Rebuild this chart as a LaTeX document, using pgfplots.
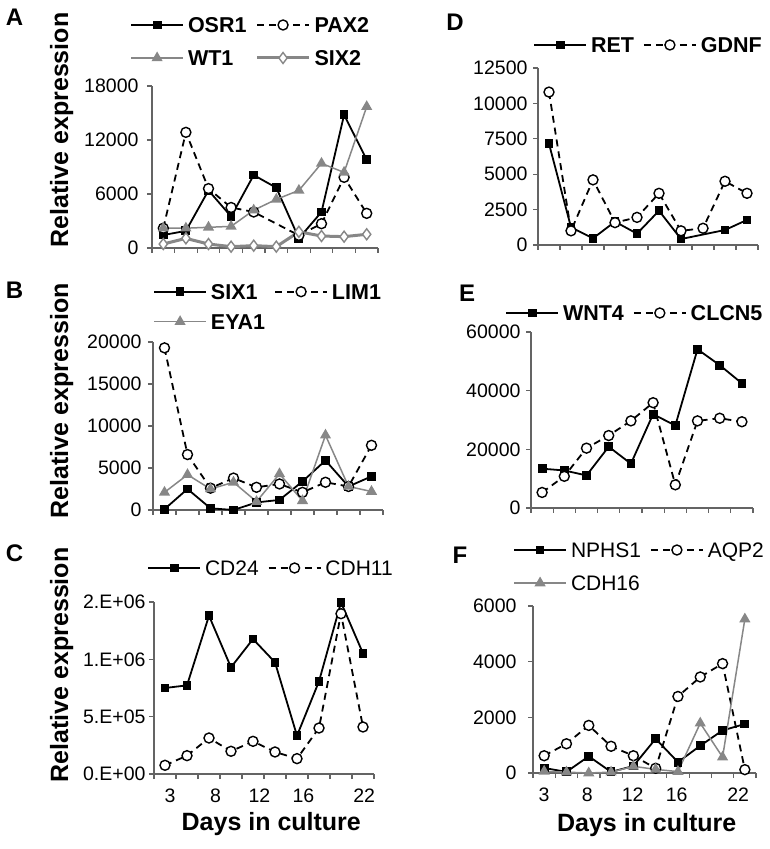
\documentclass[border=0pt]{standalone}
\usepackage{fontspec}
\setmainfont{Liberation Sans}
\usepackage{pgfplots}
\pgfplotsset{compat=1.18}
\definecolor{axgray}{RGB}{100,100,100}
\definecolor{sgray}{RGB}{135,135,135}
\newcommand\tfont{\fontsize{19.5pt}{21pt}\selectfont}
\newcommand\lfont{\fontsize{21.5pt}{23pt}\selectfont\bfseries}
\newcommand\lfontr{\fontsize{21pt}{23pt}\selectfont}
\newcommand\afont{\fontsize{25pt}{28pt}\selectfont\bfseries}
\newcommand\pfont{\fontsize{24pt}{26pt}\selectfont\bfseries}
\pgfplotsset{
 panel/.style={scale only axis, xmin=-0.5, xmax=9.5, ymin=0,
   axis x line*=bottom, axis y line*=left,
   axis line style={draw=axgray, line width=1.2pt},
   every tick/.style={draw=axgray, line width=1.2pt},
   tick align=outside, major tick length=5pt,
   xtick={-0.5,0.5,1.5,2.5,3.5,4.5,5.5,6.5,7.5,8.5,9.5}, xticklabels={},
   ticklabel style={font=\tfont},
   scaled y ticks=false,
   clip=false,
   legend cell align=left,
   legend columns=2,
   legend style={draw=none, fill=none, inner sep=0pt, anchor=west,
     nodes={inner sep=0pt, text height=15pt, text depth=0pt},
     /tikz/every odd column/.append style={column sep=4pt},
     /tikz/every even column/.append style={column sep=9pt}},
   legend image code/.code={\draw[mark repeat=2,mark phase=2] plot coordinates {(0pt,0pt) (26pt,0pt) (52pt,0pt)};},
 },
 sq/.style={black, line width=1.8pt, mark=square*, mark size=3.5pt, mark options={solid, fill=black}},
 ci/.style={black, line width=1.8pt, dash pattern=on 7pt off 5pt, mark=*, mark size=5pt, mark options={solid, fill=white, line width=1.4pt}},
 tr/.style={sgray, line width=1.5pt, mark=triangle*, mark size=5pt, mark options={solid, fill=sgray}},
 di/.style={sgray, line width=3pt, mark=diamond*, mark size=5.5pt, mark options={solid, fill=white, line width=1.4pt}},
}
\begin{document}
\begin{tikzpicture}[x=1pt,y=1pt]
\path[use as bounding box] (0,0) rectangle (769,849);
% ---------------- A
\begin{axis}[panel, at={(152pt,601pt)}, anchor=south west, width=226pt, height=162pt,
  ymax=18000, ytick={0,6000,12000,18000}, yticklabels={0,6000,12000,18000},
  yticklabel style={xshift=-5pt},
  legend style={at={(axis description cs:-0.0973,1.2747)}, font=\lfont, row sep=18pt},
  ylabel={Relative expression},
  every axis y label/.style={at={(axis description cs:-0.3996,0.728)}, rotate=90, anchor=center, font=\afont}]
\addplot[sq] coordinates {(0,1440)(1,1900)(2,6400)(3,3500)(4,8100)(5,6700)(6,1070)(7,4000)(8,14800)(9,9800)};
\addlegendentry{OSR1}
\addplot[ci] coordinates {(0,2200)(1,12850)(2,6600)(3,4500)(4,4000)(6,1400)(7,2700)(8,7850)(9,3850)};
\addlegendentry{PAX2}
\addplot[tr] coordinates {(0,2200)(1,2200)(2,2300)(3,2400)(4,4200)(5,5400)(6,6400)(7,9400)(8,8400)(9,15700)};
\addlegendentry{WT1}
\addplot[di] coordinates {(0,440)(1,1070)(2,440)(3,150)(4,260)(5,150)(6,1800)(7,1330)(8,1260)(9,1520)};
\addlegendentry{SIX2}
\end{axis}
% ---------------- B
\begin{axis}[panel, at={(153pt,339pt)}, anchor=south west, width=230pt, height=168pt,
  ymax=20000, ytick={0,5000,10000,15000,20000}, yticklabels={0,5000,10000,15000,20000},
  yticklabel style={xshift=-3pt},
  legend style={at={(axis description cs:0,1.210)}, font=\lfont, row sep=15pt},
  ylabel={Relative expression},
  every axis y label/.style={at={(axis description cs:-0.397,0.65)}, rotate=90, anchor=center, font=\afont}]
\addplot[sq] coordinates {(0,100)(1,2500)(2,200)(3,0)(4,900)(5,1200)(6,3400)(7,5900)(8,2800)(9,4000)};
\addlegendentry{SIX1}
\addplot[ci] coordinates {(0,19300)(1,6600)(2,2600)(3,3800)(4,2700)(5,3100)(6,2100)(7,3300)(8,2800)(9,7700)};
\addlegendentry{LIM1}
\addplot[tr] coordinates {(0,2100)(1,4200)(2,2500)(3,3300)(4,1000)(5,4300)(6,1100)(7,8900)(8,2800)(9,2200)};
\addlegendentry{EYA1}
\end{axis}
% ---------------- C
\begin{axis}[panel, at={(154pt,75pt)}, anchor=south west, width=220pt, height=172pt,
  ymax=1500000, ytick={0,500000,1000000,1500000}, yticklabels={0.E+00,5.E+05,1.E+06,2.E+06},
  extra x ticks={0.23,2.3,4.29,6.29,9.05}, extra x tick labels={3,8,12,16,22},
  extra x tick style={major tick length=0pt, xticklabel style={yshift=-11pt}},
  legend style={at={(axis description cs:-0.0318,1.1977)}, font=\lfontr},
  ylabel={Relative expression}, xlabel={Days in culture},
  every axis y label/.style={at={(axis description cs:-0.4195,0.634)}, rotate=90, anchor=center, font=\afont},
  every axis x label/.style={at={(axis description cs:0.533,-0.291)}, anchor=center, font=\afont}]
\addplot[sq] coordinates {(0,750000)(1,773000)(2,1380000)(3,930000)(4,1177000)(5,974000)(6,334000)(7,808000)(8,1497000)(9,1052000)};
\addlegendentry{CD24}
\addplot[ci] coordinates {(0,76000)(1,160000)(2,314000)(3,198000)(4,285000)(5,192000)(6,134000)(7,401000)(8,1398000)(9,410000)};
\addlegendentry{CDH11}
\end{axis}
% ---------------- D
\begin{axis}[panel, at={(538pt,604pt)}, anchor=south west, width=220pt, height=177pt,
  ymax=12500, ytick={0,2500,5000,7500,10000,12500}, yticklabels={0,2500,5000,7500,10000,12500},
  yticklabel style={xshift=-2pt},
  legend style={at={(axis description cs:-0.0227,1.130)}, font=\lfont}]
\addplot[sq] coordinates {(0,7150)(1,1250)(2,470)(3,1650)(4,800)(5,2420)(6,420)(8,1060)(9,1770)};
\addlegendentry{RET}
\addplot[ci] coordinates {(0,10800)(1,1000)(2,4600)(3,1580)(4,1950)(5,3650)(6,1000)(7,1180)(8,4500)(9,3650)};
\addlegendentry{GDNF}
\end{axis}
% ---------------- E
\begin{axis}[panel, at={(531pt,341pt)}, anchor=south west, width=222pt, height=176pt,
  ymax=60000, ytick={0,20000,40000,60000}, yticklabels={0,20000,40000,60000},
  yticklabel style={xshift=-2pt},
  legend style={at={(axis description cs:-0.117,1.108)}, font=\lfont}]
\addplot[sq] coordinates {(0,13400)(1,12800)(2,11100)(3,20900)(4,15100)(5,32000)(6,28100)(7,54100)(8,48700)(9,42500)};
\addlegendentry{WNT4}
\addplot[ci] coordinates {(0,5300)(1,10800)(2,20400)(3,24700)(4,29700)(5,35900)(6,7900)(7,29700)(8,30600)(9,29400)};
\addlegendentry{CLCN5}
\end{axis}
% ---------------- F
\begin{axis}[panel, at={(533pt,76pt)}, anchor=south west, width=223pt, height=167pt,
  ymax=6000, ytick={0,2000,4000,6000}, yticklabels={0,2000,4000,6000},
  yticklabel style={xshift=-8pt},
  extra x ticks={0,1.93,3.97,5.94,8.7}, extra x tick labels={3,8,12,16,22},
  extra x tick style={major tick length=0pt, xticklabel style={yshift=-11pt}},
  legend style={at={(axis description cs:-0.0897,1.2365)}, font=\lfontr, row sep=18pt},
  xlabel={Days in culture},
  every axis x label/.style={at={(axis description cs:0.51,-0.311)}, anchor=center, font=\afont}]
\addplot[sq] coordinates {(0,180)(1,40)(2,600)(3,40)(4,250)(5,1230)(6,390)(7,980)(8,1530)(9,1760)};
\addlegendentry{NPHS1}
\addplot[ci] coordinates {(0,620)(1,1050)(2,1710)(3,960)(4,620)(5,170)(6,2750)(7,3450)(8,3930)(9,120)};
\addlegendentry{AQP2}
\addplot[tr] coordinates {(0,60)(1,30)(2,0)(3,30)(4,240)(5,130)(6,50)(7,1790)(8,570)(9,5530)};
\addlegendentry{CDH16}
\end{axis}
\node[font=\pfont] at (14.5,832) {A};
\node[font=\pfont] at (14.5,559) {B};
\node[font=\pfont] at (14.5,296) {C};
\node[font=\pfont] at (455,827) {D};
\node[font=\pfont] at (467,556) {E};
\node[font=\pfont] at (460,294) {F};
\end{tikzpicture}
\end{document}
